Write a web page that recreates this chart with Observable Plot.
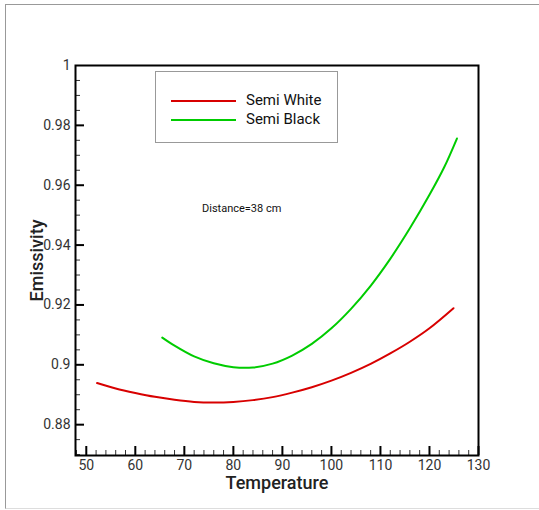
<!DOCTYPE html>
<html><head><meta charset="utf-8">
<script src="https://cdn.jsdelivr.net/npm/d3@7"></script>
<script src="https://cdn.jsdelivr.net/npm/@observablehq/plot@0.6"></script>
<style>
body{margin:0;background:#fff;font-family:Roboto,sans-serif}
#wrap{position:relative;width:539px;height:510px;overflow:hidden;background:#fff}
#border{position:absolute;left:5px;top:4px;width:600px;height:505px;border-top:1px solid #999;border-left:1px solid #999;border-bottom:1px solid #ddd;box-sizing:border-box}
#chart{position:absolute;left:0;top:0}
#legend{position:absolute;left:155px;top:71px;width:183px;height:72px;border:1px solid #999;background:#fff;box-sizing:border-box}
.lg{position:absolute;left:15px;width:65px;height:2px}
.lt{position:absolute;left:90px;font-size:15px;color:#111;line-height:16px}
#note{position:absolute;left:202px;top:202px;font-size:11px;color:#111}
</style></head>
<body>
<div id="wrap">
  <div id="border"></div>
  <div id="chart"></div>
  <div id="legend"></div>
  <div id="note"></div>
</div>
<script>
const seriesNames = ["Semi White", "Semi Black"];
const seriesColors = ["#d80000", "#00cc00"];
const noteText = "Distance=38 cm";

const whiteT = [52.2, 56, 60, 64, 68, 72, 76, 80, 84, 88, 92, 96, 100, 104, 108, 112, 116, 120, 124.9];
const whiteE = [0.8939, 0.8921, 0.8906, 0.8893, 0.8883, 0.8876, 0.8874, 0.8876, 0.8882, 0.8892, 0.8907, 0.8925, 0.8947, 0.8973, 0.9003, 0.9038, 0.9077, 0.9122, 0.9189];

const blackT = [65.5, 68, 72, 76, 80, 84, 88, 92, 96, 100, 104, 108, 112, 116, 120, 123, 125.6];
const blackE = [0.9091, 0.9064, 0.9028, 0.9005, 0.8992, 0.8991, 0.9004, 0.9031, 0.9070, 0.9122, 0.9187, 0.9264, 0.9354, 0.9456, 0.9568, 0.9660, 0.9756];

const xMajor = [50, 60, 70, 80, 90, 100, 110, 120, 130];
const xMinor = d3.range(48, 130.01, 2).filter(v => v % 10 !== 0);
const yMajor = [0.88, 0.9, 0.92, 0.94, 0.96, 0.98, 1];
const yMinor = d3.range(0.87, 1.0001, 0.005).map(v => +v.toFixed(3)).filter(v => Math.round(v * 1000) % 20 !== 0);
const yLabels = ["0.88", "0.9", "0.92", "0.94", "0.96", "0.98", "1"];

const white = whiteT.map((t, i) => ({t, e: whiteE[i]}));
const black = blackT.map((t, i) => ({t, e: blackE[i]}));

const plot = Plot.plot({
  width: 539, height: 510,
  marginLeft: 75, marginRight: 61, marginTop: 65, marginBottom: 55,
  style: {fontFamily: "Roboto, sans-serif", fontSize: "14px", color: "#333", background: "transparent"},
  x: {domain: [47.8, 130]},
  y: {domain: [0.8697, 1]},
  marks: [
    Plot.axisX({ticks: xMajor, tickSize: 0, tickPadding: 5, tickFormat: d => String(d), label: null, fontSize: 14}),
    Plot.axisX({ticks: xMajor, tickSize: -9, text: null, label: null, stroke: "black", strokeWidth: 2}),
    Plot.axisX({ticks: xMinor, tickSize: -5, text: null, label: null, stroke: "#333", strokeWidth: 1}),
    Plot.axisY({ticks: yMajor, tickSize: 0, tickPadding: 5, tickFormat: (d) => yLabels[yMajor.indexOf(d)], label: null, fontSize: 14}),
    Plot.axisY({ticks: yMajor.slice(0, -1), tickSize: -9, text: null, label: null, stroke: "black", strokeWidth: 2}),
    Plot.axisY({ticks: yMinor, tickSize: -5, text: null, label: null, stroke: "#333", strokeWidth: 1}),
    Plot.line(white, {x: "t", y: "e", stroke: seriesColors[0], strokeWidth: 2, curve: "catmull-rom"}),
    Plot.line(black, {x: "t", y: "e", stroke: seriesColors[1], strokeWidth: 2, curve: "catmull-rom"}),
    Plot.frame({stroke: "black", strokeWidth: 2}),
    Plot.text(["Temperature"], {frameAnchor: "bottom", lineAnchor: "middle", textAnchor: "middle", dy: 28, text: d => d, fontSize: 18, fontWeight: 500, fill: "#222"}),
    Plot.text(["Emissivity"], {frameAnchor: "left", lineAnchor: "middle", textAnchor: "middle", dx: -38, rotate: -90, text: d => d, fontSize: 18, fontWeight: 500, fill: "#222"})
  ]
});
document.getElementById("chart").appendChild(plot);

const lg = document.getElementById("legend");
seriesNames.forEach((n, i) => {
  const line = document.createElement("div");
  line.className = "lg";
  line.style.top = (28 + i * 19) + "px";
  line.style.background = seriesColors[i];
  lg.appendChild(line);
  const t = document.createElement("div");
  t.className = "lt";
  t.style.top = (20 + i * 19) + "px";
  t.textContent = n;
  lg.appendChild(t);
});
document.getElementById("note").textContent = noteText;
</script>
</body></html>
